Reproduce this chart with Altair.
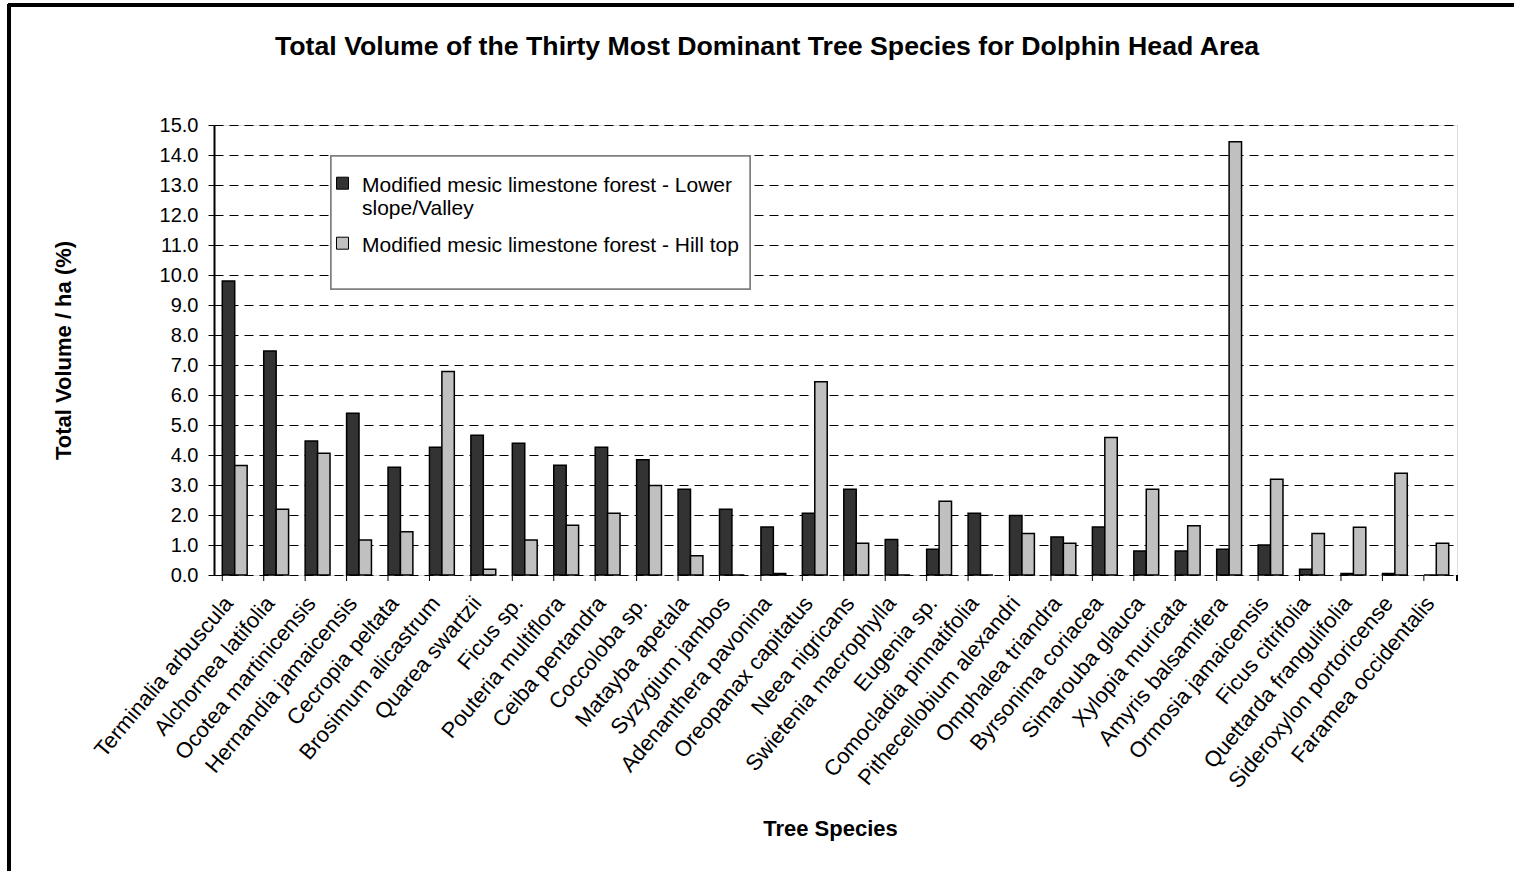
import altair as alt
import pandas as pd

species = [
    "Terminalia arbuscula", "Alchornea latifolia", "Ocotea martinicensis",
    "Hernandia jamaicensis", "Cecropia peltata", "Brosimum alicastrum",
    "Quarea swartzii", "Ficus sp.", "Pouteria multiflora", "Ceiba pentandra",
    "Coccoloba sp.", "Matayba apetala", "Syzygium jambos", "Adenanthera pavonina",
    "Oreopanax capitatus", "Neea nigricans", "Swietenia macrophylla", "Eugenia sp.",
    "Comocladia pinnatifolia", "Pithecellobium alexandri", "Omphalea triandra",
    "Byrsonima coriacea", "Simarouba glauca", "Xylopia muricata", "Amyris balsamifera",
    "Ormosia jamaicensis", "Ficus citrifolia", "Quettarda frangulifolia",
    "Sideroxylon portoricense", "Faramea occidentalis",
]
lower_slope = [9.8, 7.47, 4.47, 5.39, 3.59, 4.26, 4.66, 4.39, 3.66, 4.26,
               3.84, 2.86, 2.19, 1.60, 2.06, 2.86, 1.18, 0.86, 2.06, 1.98,
               1.27, 1.60, 0.80, 0.80, 0.86, 1.00, 0.19, 0.05, 0.05, 0.0]
hill_top = [3.65, 2.19, 4.06, 1.17, 1.44, 6.78, 0.19, 1.17, 1.66, 2.06,
            2.98, 0.64, 0.0, 0.05, 6.44, 1.06, 0.0, 2.46, 0.0, 1.38,
            1.06, 4.58, 2.86, 1.64, 14.44, 3.19, 1.38, 1.59, 3.39, 1.06]
series_names = [
    "Modified mesic limestone forest - Lower slope/Valley",
    "Modified mesic limestone forest - Hill top",
]
series_colors = ["#333333", "#c0c0c0"]
y_ticks = list(range(0, 16))

rows = []
for i, s in enumerate(species):
    rows.append({"species": s, "series": series_names[0], "value": lower_slope[i]})
    rows.append({"species": s, "series": series_names[1], "value": hill_top[i]})
df = pd.DataFrame(rows)
df_species = pd.DataFrame({"species": species})

FONT = "Liberation Sans"
W, H = 1243, 450

x_enc = alt.X(
    "species:N", sort=species,
    scale=alt.Scale(paddingInner=0.4, paddingOuter=0.2),
    axis=alt.Axis(
        title="Tree Species", titleFontSize=22, titleFontWeight="bold",
        titleColor="black", titleFont=FONT, titleX=616, titleY=253,
        titleBaseline="middle",
        labelAngle=-50, labelAlign="right", labelBaseline="middle",
        labelFontSize=22, labelFont=FONT, labelColor="black", labelPadding=24,
        labelOffset=-6, labelLimit=400, ticks=False, domain=False, grid=False,
    ),
)

bars = alt.Chart(df).mark_bar(stroke="black", strokeWidth=1.5).encode(
    x=x_enc,
    xOffset=alt.XOffset("series:N", sort=series_names, scale=alt.Scale(paddingInner=0, paddingOuter=0)),
    y=alt.Y(
        "value:Q",
        scale=alt.Scale(domain=[0, 15], nice=False),
        axis=alt.Axis(
            title="Total Volume / ha (%)", titleFontSize=22, titleFontWeight="bold",
            titleColor="black", titleFont=FONT, titleAngle=270, titleX=-151, titleY=225,
            titleAlign="center", titleBaseline="middle",
            values=y_ticks, format=".1f", labelFontSize=20, labelFont=FONT,
            labelColor="black", labelPadding=10, tickSize=6, tickColor="black",
            domainColor="black", domainWidth=2,
            gridColor="black", gridDash=[9, 6], gridWidth=1,
        ),
    ),
    fill=alt.Fill(
        "series:N", sort=series_names,
        scale=alt.Scale(domain=series_names, range=series_colors),
        legend=alt.Legend(
            title=None, orient="none", legendX=118, legendY=39,
            symbolType="M-1,0.45H1V2.45H-1Z", symbolSize=144, symbolStrokeColor="black",
            symbolStrokeWidth=1, labelFontSize=21, labelFont=FONT, labelColor="black",
            labelLimit=600, labelOffset=9, rowPadding=5,
            labelBaseline="top",
            labelExpr="datum.label == 'Modified mesic limestone forest - Lower slope/Valley' ? ['Modified mesic limestone forest - Lower', 'slope/Valley'] : datum.label",
        ),
    ),
)

ticks = alt.Chart(df_species).mark_rule(color="black", strokeWidth=1).encode(
    x=alt.X("species:N", sort=species, bandPosition=0),
    y=alt.value(H), y2=alt.value(H + 6),
)
last_tick = alt.Chart(df_species).mark_rule(color="black", strokeWidth=1).encode(
    x=alt.value(W), y=alt.value(H), y2=alt.value(H + 6),
)

legend_box = alt.Chart(df_species).mark_rect(fill="white", stroke="#808080", strokeWidth=1.5).encode(
    x=alt.value(117), x2=alt.value(536), y=alt.value(31), y2=alt.value(164),
)

frame_top = alt.Chart(df_species).mark_rule(color="black", strokeWidth=2.5).encode(
    x=alt.value(-206), x2=alt.value(1514 - 214), y=alt.value(-120),
)
frame_left = alt.Chart(df_species).mark_rule(color="black", strokeWidth=2.5).encode(
    x=alt.value(-205), y=alt.value(-121), y2=alt.value(871 - 125),
)

chart = alt.layer(legend_box, bars, ticks, last_tick, frame_top, frame_left).properties(
    width=W, height=H,
    title=alt.TitleParams(
        "Total Volume of the Thirty Most Dominant Tree Species for Dolphin Head Area",
        fontSize=26.7, fontWeight="bold", font=FONT, color="black",
        anchor="start", frame="group", dx=61, offset=-79, baseline="alphabetic",
    ),
    autosize=alt.AutoSizeParams(type="none"),
    padding={"left": 214, "top": 125, "right": 57, "bottom": 296},
).configure_view(stroke="black", strokeWidth=2).configure(background="white")

chart.save("out.html", embed_options={"renderer": "svg", "actions": False})
